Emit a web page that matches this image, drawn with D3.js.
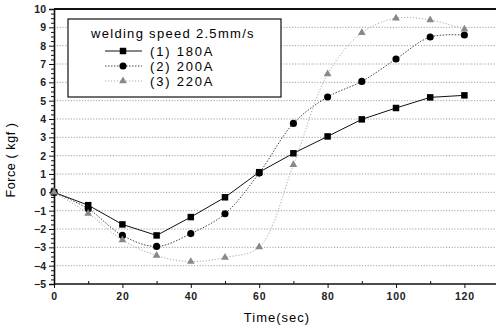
<!DOCTYPE html>
<html>
<head>
<meta charset="utf-8">
<script src="https://cdn.jsdelivr.net/npm/d3@7"></script>
<style>
  body { margin: 0; background: #fff; }
  text { font-family: Arial, "Liberation Sans", sans-serif; }
</style>
</head>
<body>
<div id="chart"></div>
<script>
// data
const times = [0, 10, 20, 30, 40, 50, 60, 70, 80, 90, 100, 110, 120];
const force180 = [0, -0.7, -1.75, -2.35, -1.35, -0.27, 1.1, 2.13, 3.05, 3.98, 4.6, 5.18, 5.29];
const force200 = [0, -0.9, -2.35, -2.95, -2.25, -1.17, 1.05, 3.76, 5.2, 6.05, 7.27, 8.47, 8.58];
const force220 = [0, -1.15, -2.6, -3.45, -3.78, -3.55, -2.98, 1.5, 6.45, 8.7, 9.5, 9.4, 8.9];
const seriesNames = ['(1) 180A', '(2) 200A', '(3) 220A'];
const legendTitle = 'welding speed 2.5mm/s';
const xTicks = [0, 20, 40, 60, 80, 100, 120];
const yTicks = [-5, -4, -3, -2, -1, 0, 1, 2, 3, 4, 5, 6, 7, 8, 9, 10];

const width = 496, height = 329;
const margin = {left: 54, top: 9, bottom: 45};

const svg = d3.select('#chart').append('svg')
  .attr('width', width)
  .attr('height', height);

const x = d3.scaleLinear().domain([0, 130]).range([margin.left, margin.left + 130 * 3.42]);
const y = d3.scaleLinear().domain([-5, 10]).range([height - margin.bottom, margin.top]);

// dotted horizontal grid
svg.append('g')
  .selectAll('line')
  .data(yTicks.filter(d => d > -5 && d < 10))
  .enter().append('line')
  .attr('x1', x(0)).attr('x2', width)
  .attr('y1', d => y(d)).attr('y2', d => y(d))
  .attr('stroke', '#888')
  .attr('stroke-width', 0.8)
  .attr('stroke-dasharray', '1.2 1.6');

// top frame line
svg.append('line')
  .attr('x1', x(0)).attr('x2', width)
  .attr('y1', y(10)).attr('y2', y(10))
  .attr('stroke', '#111').attr('stroke-width', 2);

// axes
const xAxis = svg.append('g')
  .attr('transform', `translate(0,${y(-5)})`)
  .call(d3.axisBottom(x).tickValues(xTicks).tickSize(4).tickPadding(5));
svg.append('g')
  .attr('transform', `translate(0,${y(-5)})`)
  .call(d3.axisTop(x).tickValues(d3.range(10, 130, 20)).tickSize(3).tickFormat(''))
  .call(g => g.select('.domain').remove());

const yAxis = svg.append('g')
  .attr('transform', `translate(${x(0)},0)`)
  .call(d3.axisLeft(y).tickValues(yTicks).tickSize(5).tickPadding(3));
svg.append('g')
  .attr('transform', `translate(${x(0)},0)`)
  .call(d3.axisLeft(y).tickValues(d3.range(-5, 10.01, 0.25).filter(d => d % 1 !== 0)).tickSize(3).tickFormat(''))
  .call(g => g.select('.domain').remove());

[xAxis, yAxis].forEach(g => {
  g.select('.domain').attr('stroke', '#111').attr('stroke-width', 1.6);
  g.selectAll('text')
    .attr('font-size', 10.5)
    .attr('font-weight', 'bold')
    .attr('fill', '#222');
});
xAxis.selectAll('text').attr('letter-spacing', 0.8);
xAxis.select('.domain').attr('d', `M${x(0)},0H${width}`);
svg.selectAll('.tick line').attr('stroke', '#111');

// axis titles
svg.append('text')
  .attr('x', 277).attr('y', 322)
  .attr('text-anchor', 'middle')
  .attr('font-size', 13)
  .attr('letter-spacing', 1)
  .text('Time(sec)');
svg.append('text')
  .attr('transform', 'translate(15,160) rotate(-90)')
  .attr('text-anchor', 'middle')
  .attr('font-size', 12.5)
  .attr('letter-spacing', 0.6)
  .text('Force ( kgf )');

// series
const series = [
  {values: force180, color: '#111', dash: null, width: 1, shape: d3.symbolSquare, size: 42, curve: d3.curveLinear, fill: '#000'},
  {values: force200, color: '#444', dash: '1.5 1.5', width: 1, shape: d3.symbolCircle, size: 40, curve: d3.curveCatmullRom, fill: '#000'},
  {values: force220, color: '#aaa', dash: '1.2 1.8', width: 1, shape: d3.symbolTriangle, size: 26, curve: d3.curveCatmullRom, fill: '#888'}
];

series.forEach(s => {
  const pts = times.map((t, i) => [t, s.values[i]]);
  svg.append('path')
    .datum(pts)
    .attr('fill', 'none')
    .attr('stroke', s.color)
    .attr('stroke-width', s.width)
    .attr('stroke-dasharray', s.dash)
    .attr('d', d3.line().x(d => x(d[0])).y(d => y(d[1])).curve(s.curve));
  svg.append('g')
    .selectAll('path')
    .data(pts)
    .enter().append('path')
    .attr('transform', d => `translate(${x(d[0])},${y(d[1])})`)
    .attr('d', d3.symbol().type(s.shape).size(s.size))
    .attr('fill', s.fill);
});

// legend
const legend = svg.append('g');
legend.append('rect')
  .attr('x', 68).attr('y', 19)
  .attr('width', 213).attr('height', 78)
  .attr('fill', '#fff')
  .attr('stroke', '#111')
  .attr('stroke-width', 1.2);
legend.append('text')
  .attr('x', 91).attr('y', 38)
  .attr('font-size', 13)
  .attr('letter-spacing', 1.3)
  .text(legendTitle);
seriesNames.forEach((name, i) => {
  const s = series[i];
  const ly = 51 + i * 15;
  legend.append('line')
    .attr('x1', 105).attr('x2', 142)
    .attr('y1', ly).attr('y2', ly)
    .attr('stroke', s.color)
    .attr('stroke-dasharray', s.dash);
  legend.append('path')
    .attr('transform', `translate(123,${ly})`)
    .attr('d', d3.symbol().type(s.shape).size(s.size))
    .attr('fill', s.fill);
  legend.append('text')
    .attr('x', 150).attr('y', ly + 4.5)
    .attr('font-size', 13)
    .attr('letter-spacing', 1.8)
    .text(name);
});
</script>
</body>
</html>
